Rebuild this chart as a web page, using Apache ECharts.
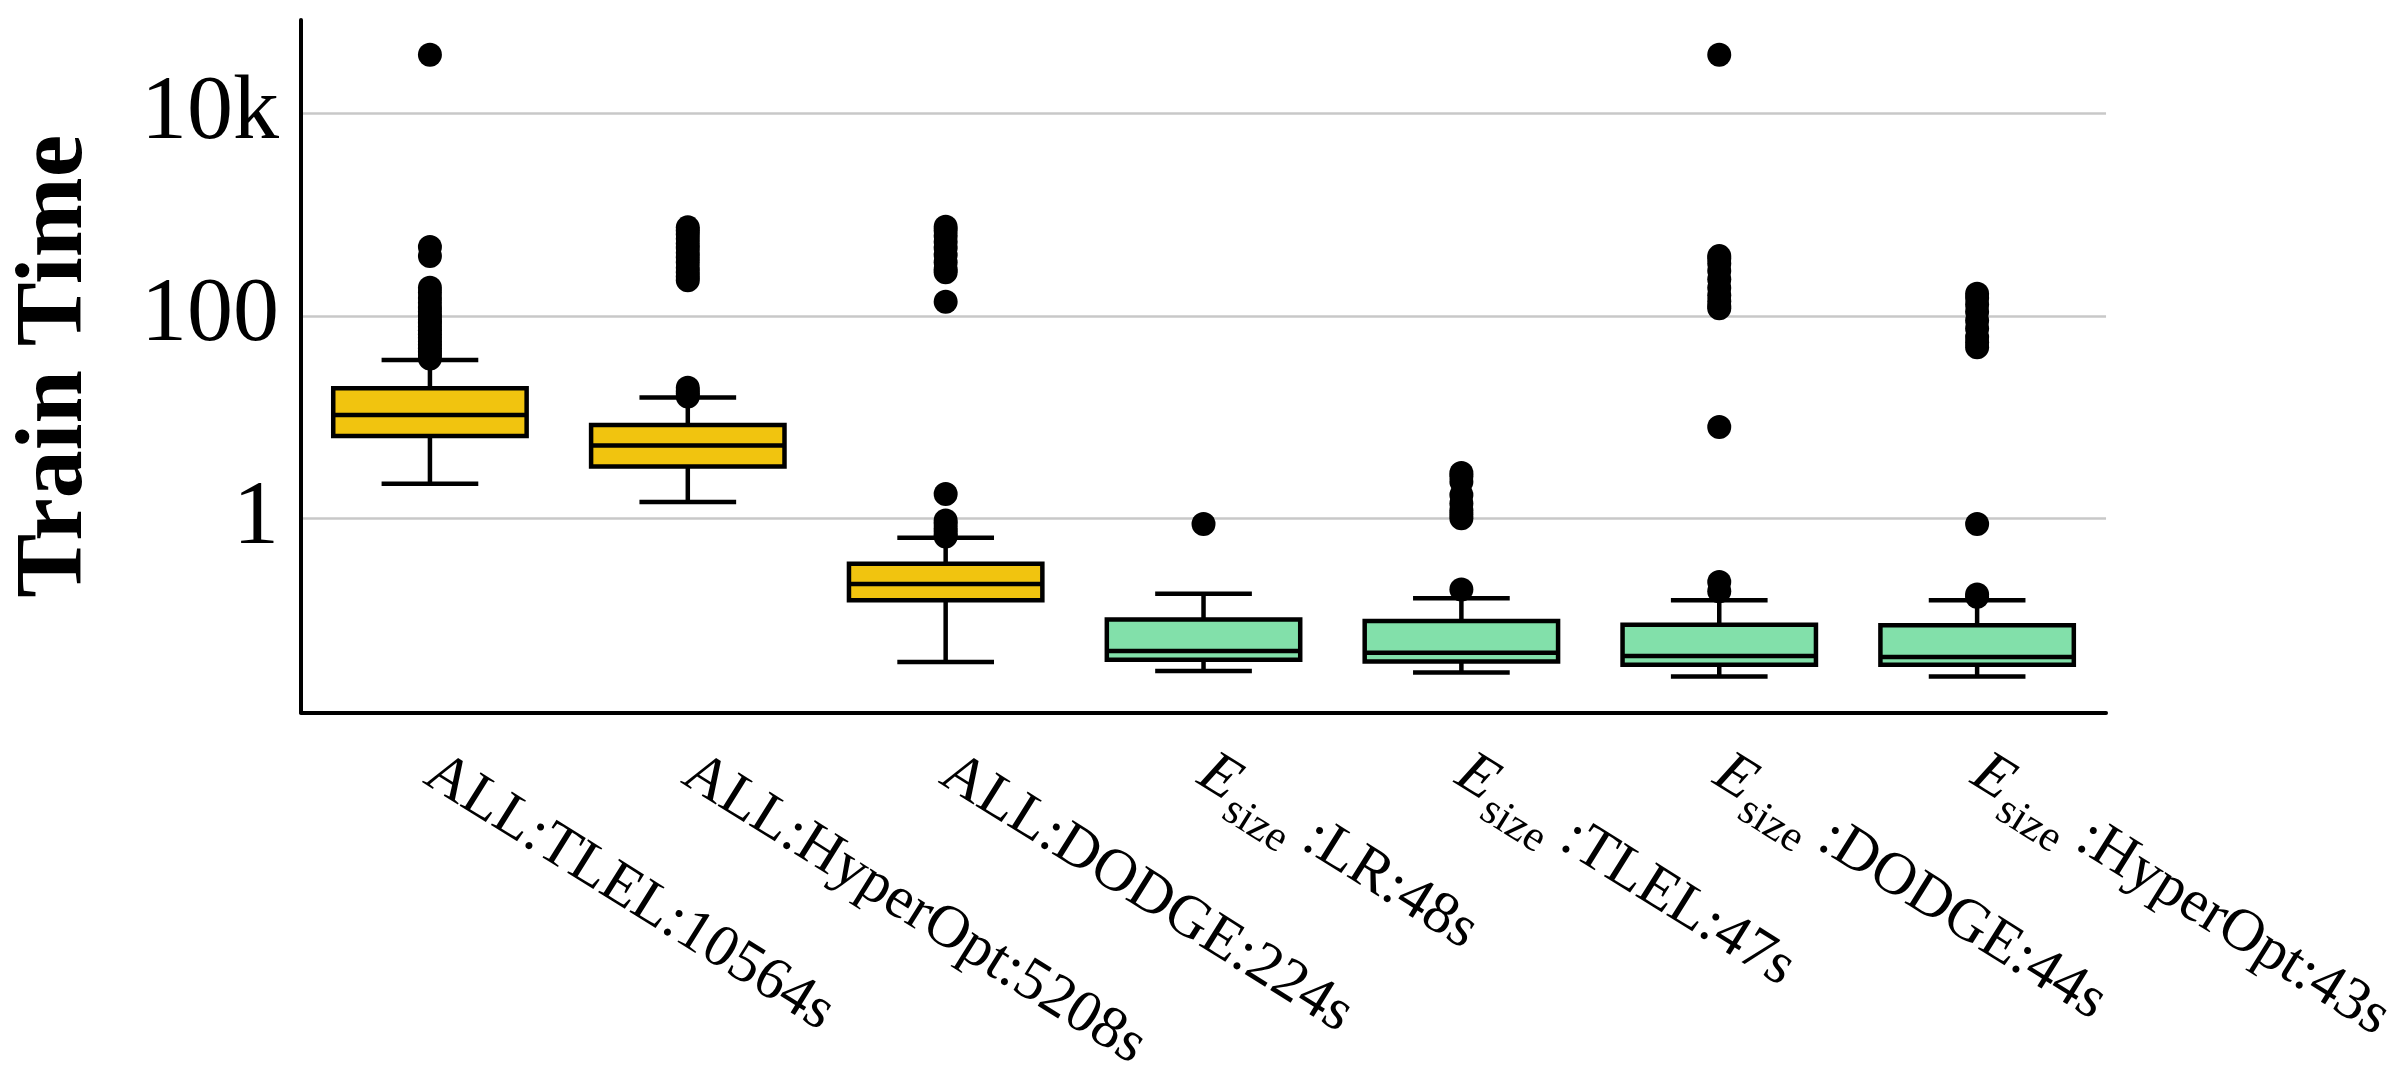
<!DOCTYPE html>
<html>
<head>
<meta charset="utf-8">
<title>Train Time</title>
<script src="https://cdn.jsdelivr.net/npm/echarts@6/dist/echarts.min.js"></script>
<style>
  html, body { margin: 0; padding: 0; background: #fff; }
  #main { width: 2400px; height: 1078px; }
</style>
</head>
<body>
<div id="main"></div>
<script>
// x categories (E_size = E with subscript "size")
var categories = ['ALL:TLEL:10564s', 'ALL:HyperOpt:5208s', 'ALL:DODGE:224s',
  'E_size:LR:48s', 'E_size:TLEL:47s', 'E_size:DODGE:44s', 'E_size:HyperOpt:43s'];
var groups = ['ALL', 'ALL', 'ALL', 'E', 'E', 'E', 'E'];

// box statistics
var boxLow  = [2.2,  1.45, 0.038, 0.031, 0.030, 0.0274, 0.0274];
var boxQ1   = [6.5,  3.25, 0.155, 0.040, 0.0385, 0.0358, 0.0358];
var boxMed  = [10.5, 5.25, 0.224, 0.0488, 0.047, 0.0437, 0.0427];
var boxQ3   = [19.3, 8.35, 0.356, 0.100, 0.097, 0.089, 0.088];
var boxHigh = [36.7, 15.6, 0.643, 0.180, 0.162, 0.155, 0.155];

// fliers per category
var outliers = [
  [38000, 480, 390, 190, 170, 150, 135, 120, 110, 100, 92, 85, 78, 72, 66, 61, 56, 52, 48, 44, 41, 38],
  [750, 700, 640, 580, 520, 470, 420, 380, 340, 300, 270, 245, 225, 19.5, 18, 17, 16],
  [760, 700, 620, 540, 470, 400, 340, 290, 270, 138, 1.74, 0.95, 0.88, 0.8, 0.74, 0.69, 0.66],
  [0.88],
  [2.8, 2.6, 2.3, 1.7, 1.4, 1.2, 1.1, 1.0, 0.198],
  [38000, 390, 370, 330, 280, 230, 190, 160, 140, 125, 119, 7.98, 0.235, 0.19],
  [166, 150, 130, 110, 90, 75, 62, 55, 49, 0.88, 0.177, 0.168]
];

// y axis range and the labelled decades
var yMin = 0.0121;
var yMax = 83950;
var tickText = { 0: '1', 2: '100', 4: '10k' };

var groupColors = { ALL: '#F1C40F', E: '#82E0AA' };
var serif = '"Liberation Serif", "Times New Roman", Times, serif';

var boxData = categories.map(function (c, i) {
  return [i, boxLow[i], boxQ1[i], boxMed[i], boxQ3[i], boxHigh[i]];
});
var flierData = [];
outliers.forEach(function (list, i) {
  list.forEach(function (v) { flierData.push([i, v]); });
});

function renderBox(params, api) {
  var i = api.value(0);
  var pLow = api.coord([i, api.value(1)]);
  var pQ1 = api.coord([i, api.value(2)]);
  var pMed = api.coord([i, api.value(3)]);
  var pQ3 = api.coord([i, api.value(4)]);
  var pHigh = api.coord([i, api.value(5)]);
  var band = api.size([1, 0], [i, 1])[0];
  var bw = band * 0.75;
  var cap = bw / 4;
  var cx = pMed[0];
  var ls = { stroke: '#000', lineWidth: 4.5 };
  return {
    type: 'group',
    children: [
      { type: 'line', shape: { x1: cx, y1: pQ3[1], x2: cx, y2: pHigh[1] }, style: ls },
      { type: 'line', shape: { x1: cx - cap, y1: pHigh[1], x2: cx + cap, y2: pHigh[1] }, style: ls },
      { type: 'line', shape: { x1: cx, y1: pQ1[1], x2: cx, y2: pLow[1] }, style: ls },
      { type: 'line', shape: { x1: cx - cap, y1: pLow[1], x2: cx + cap, y2: pLow[1] }, style: ls },
      {
        type: 'rect',
        shape: { x: cx - bw / 2, y: pQ3[1], width: bw, height: pQ1[1] - pQ3[1] },
        style: { fill: groupColors[groups[i]], stroke: '#000', lineWidth: 4.5 }
      },
      { type: 'line', shape: { x1: cx - bw / 2, y1: pMed[1], x2: cx + bw / 2, y2: pMed[1] }, style: ls }
    ]
  };
}

var chart = echarts.init(document.getElementById('main'));
chart.setOption({
  backgroundColor: '#fff',
  animation: false,
  grid: { left: 294, right: 268, top: 20, bottom: 344, containLabel: false },
  xAxis: {
    type: 'category',
    data: categories,
    boundaryGap: true,
    axisLine: { lineStyle: { color: '#000', width: 4 } },
    axisTick: { show: false },
    splitLine: { show: false },
    axisLabel: {
      interval: 0,
      rotate: -32,
      margin: 56,
      color: '#000',
      fontFamily: serif,
      fontSize: 60,
      formatter: function (v) {
        if (v.indexOf('E_size') === 0) {
          return '{e|E}{sub|size}{t| ' + v.slice(6) + '}';
        }
        return v;
      },
      rich: {
        e: { fontFamily: serif, fontSize: 60, fontStyle: 'italic', color: '#000' },
        sub: { fontFamily: serif, fontSize: 44, color: '#000', padding: [42, 0, 0, 3] },
        t: { fontFamily: serif, fontSize: 60, color: '#000' }
      }
    }
  },
  yAxis: {
    type: 'log',
    logBase: 100,
    min: yMin,
    max: yMax,
    name: 'Train Time',
    nameLocation: 'middle',
    nameGap: 197,
    nameTextStyle: { fontFamily: serif, fontWeight: 'bold', fontSize: 96, color: '#000' },
    axisLine: { show: true, lineStyle: { color: '#000', width: 4 } },
    axisTick: { show: false },
    splitLine: { show: true, showMinLine: false, showMaxLine: false, lineStyle: { color: '#c8c8c8', width: 2.5 } },
    minorTick: { show: false },
    axisLabel: {
      color: '#000',
      fontFamily: serif,
      fontSize: 92,
      margin: 22,
      showMinLabel: false,
      showMaxLabel: false,
      formatter: function (v) {
        var lg = Math.round(Math.log10(v) * 1000) / 1000;
        return tickText[lg] !== undefined ? tickText[lg] : '';
      }
    }
  },
  series: [
    {
      type: 'custom',
      renderItem: renderBox,
      data: boxData,
      encode: { x: 0, y: [1, 2, 3, 4, 5] },
      z: 2
    },
    {
      type: 'scatter',
      data: flierData,
      symbol: 'circle',
      symbolSize: 24,
      itemStyle: { color: '#000', opacity: 1 },
      z: 3
    }
  ]
});
</script>
</body>
</html>
